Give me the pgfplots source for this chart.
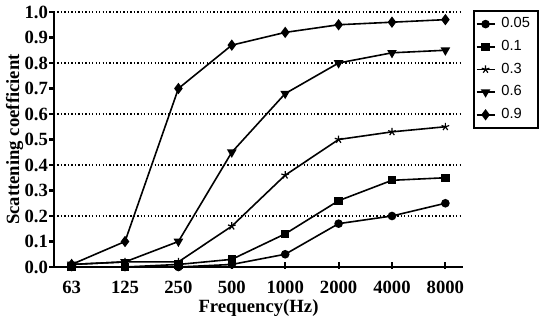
\documentclass[border=0pt]{standalone}
\usepackage{pgfplots}
\pgfplotsset{compat=1.18}
\usepackage{fontspec}
\setmainfont{Liberation Serif}
\newfontfamily\legfont{Liberation Sans}
\begin{document}
\begin{tikzpicture}[x=1pt,y=1pt]
\path[use as bounding box] (-40.5,-49.5) rectangle (372,200.25);
\begin{axis}[at={(0,0)},anchor=south west, scale only axis,
  width=306.75pt, height=191.25pt,
  xmin=-0.33, xmax=7.33, ymin=0, ymax=1,
  axis lines=left,
  axis line style={line width=2pt,-},
  tick align=outside,
  major tick length=3.5pt,
  tick style={line width=1.6pt,black},
  x tick style={yshift=3.5pt, yscale=1.4},
  xtick={0,1,2,3,4,5,6,7},
  xticklabels={63,125,250,500,1000,2000,4000,8000},
  ytick={0,0.1,0.2,0.3,0.4,0.5,0.6,0.7,0.8,0.9,1.0},
  yticklabels={0.0,0.1,0.2,0.3,0.4,0.5,0.6,0.7,0.8,0.9,1.0},
  /pgf/number format/assume math mode=true,
  tick label style={font=\bfseries\fontsize{14}{16}\selectfont},
  xticklabel style={font=\bfseries\fontsize{14}{16}\selectfont, yshift=-3.5pt},
  yticklabel style={font=\bfseries\fontsize{14}{16}\selectfont, inner sep=0.8pt},
  extra y ticks={0.2,0.4,0.6,0.8,1.0},
  extra y tick labels={},
  extra y tick style={grid=major, major tick length=0pt},
  grid style={black, line width=1pt, dash pattern=on 1pt off 1.6pt},
  xlabel={Frequency(Hz)},
  ylabel={Scattening coefficient},
  label style={font=\bfseries\fontsize{14}{16}\selectfont},
  xlabel style={at={(axis description cs:0.5,0)}, anchor=center, yshift=-30.5pt},
  ylabel style={at={(axis description cs:0,0.5)}, anchor=center, yshift=29.5pt},
  every axis plot/.append style={black, line width=1.2pt},
  legend style={at={(1.0244,1.008)}, anchor=north west, draw=black, line width=1.2pt,
    font=\legfont\fontsize{11}{12}\selectfont, inner sep=1.5pt,
    row sep=0pt,
    nodes={text height=7.8pt, text depth=2pt, inner ysep=3.6pt, inner xsep=4.5pt},
    cells={anchor=west}},
  legend image code/.code={\draw[mark repeat=2,mark phase=2] plot coordinates {(0pt,0pt) (6.75pt,0pt) (13.5pt,0pt)};},
  clip=false,
]
\addplot[mark=*, mark size=2.6pt] coordinates {(0,0) (1,0) (2,0) (3,0.01) (4,0.05) (5,0.17) (6,0.20) (7,0.25)};
\addlegendentry{0.05}
\addplot[mark=square*, mark size=2.5pt] coordinates {(0,0) (1,0) (2,0.01) (3,0.03) (4,0.13) (5,0.26) (6,0.34) (7,0.35)};
\addlegendentry{0.1}
\addplot[mark=star, mark size=3pt, mark options={line width=0.9pt}] coordinates {(0,0.01) (1,0.02) (2,0.02) (3,0.16) (4,0.36) (5,0.50) (6,0.53) (7,0.55)};
\addlegendentry{0.3}
\addplot[mark=triangle*, mark size=3pt, mark options={rotate=180}] coordinates {(0,0.01) (1,0.02) (2,0.10) (3,0.45) (4,0.68) (5,0.80) (6,0.84) (7,0.85)};
\addlegendentry{0.6}
\addplot[mark=diamond*, mark size=3.3pt] coordinates {(0,0.01) (1,0.10) (2,0.70) (3,0.87) (4,0.92) (5,0.95) (6,0.96) (7,0.97)};
\addlegendentry{0.9}
\end{axis}
\end{tikzpicture}
\end{document}
